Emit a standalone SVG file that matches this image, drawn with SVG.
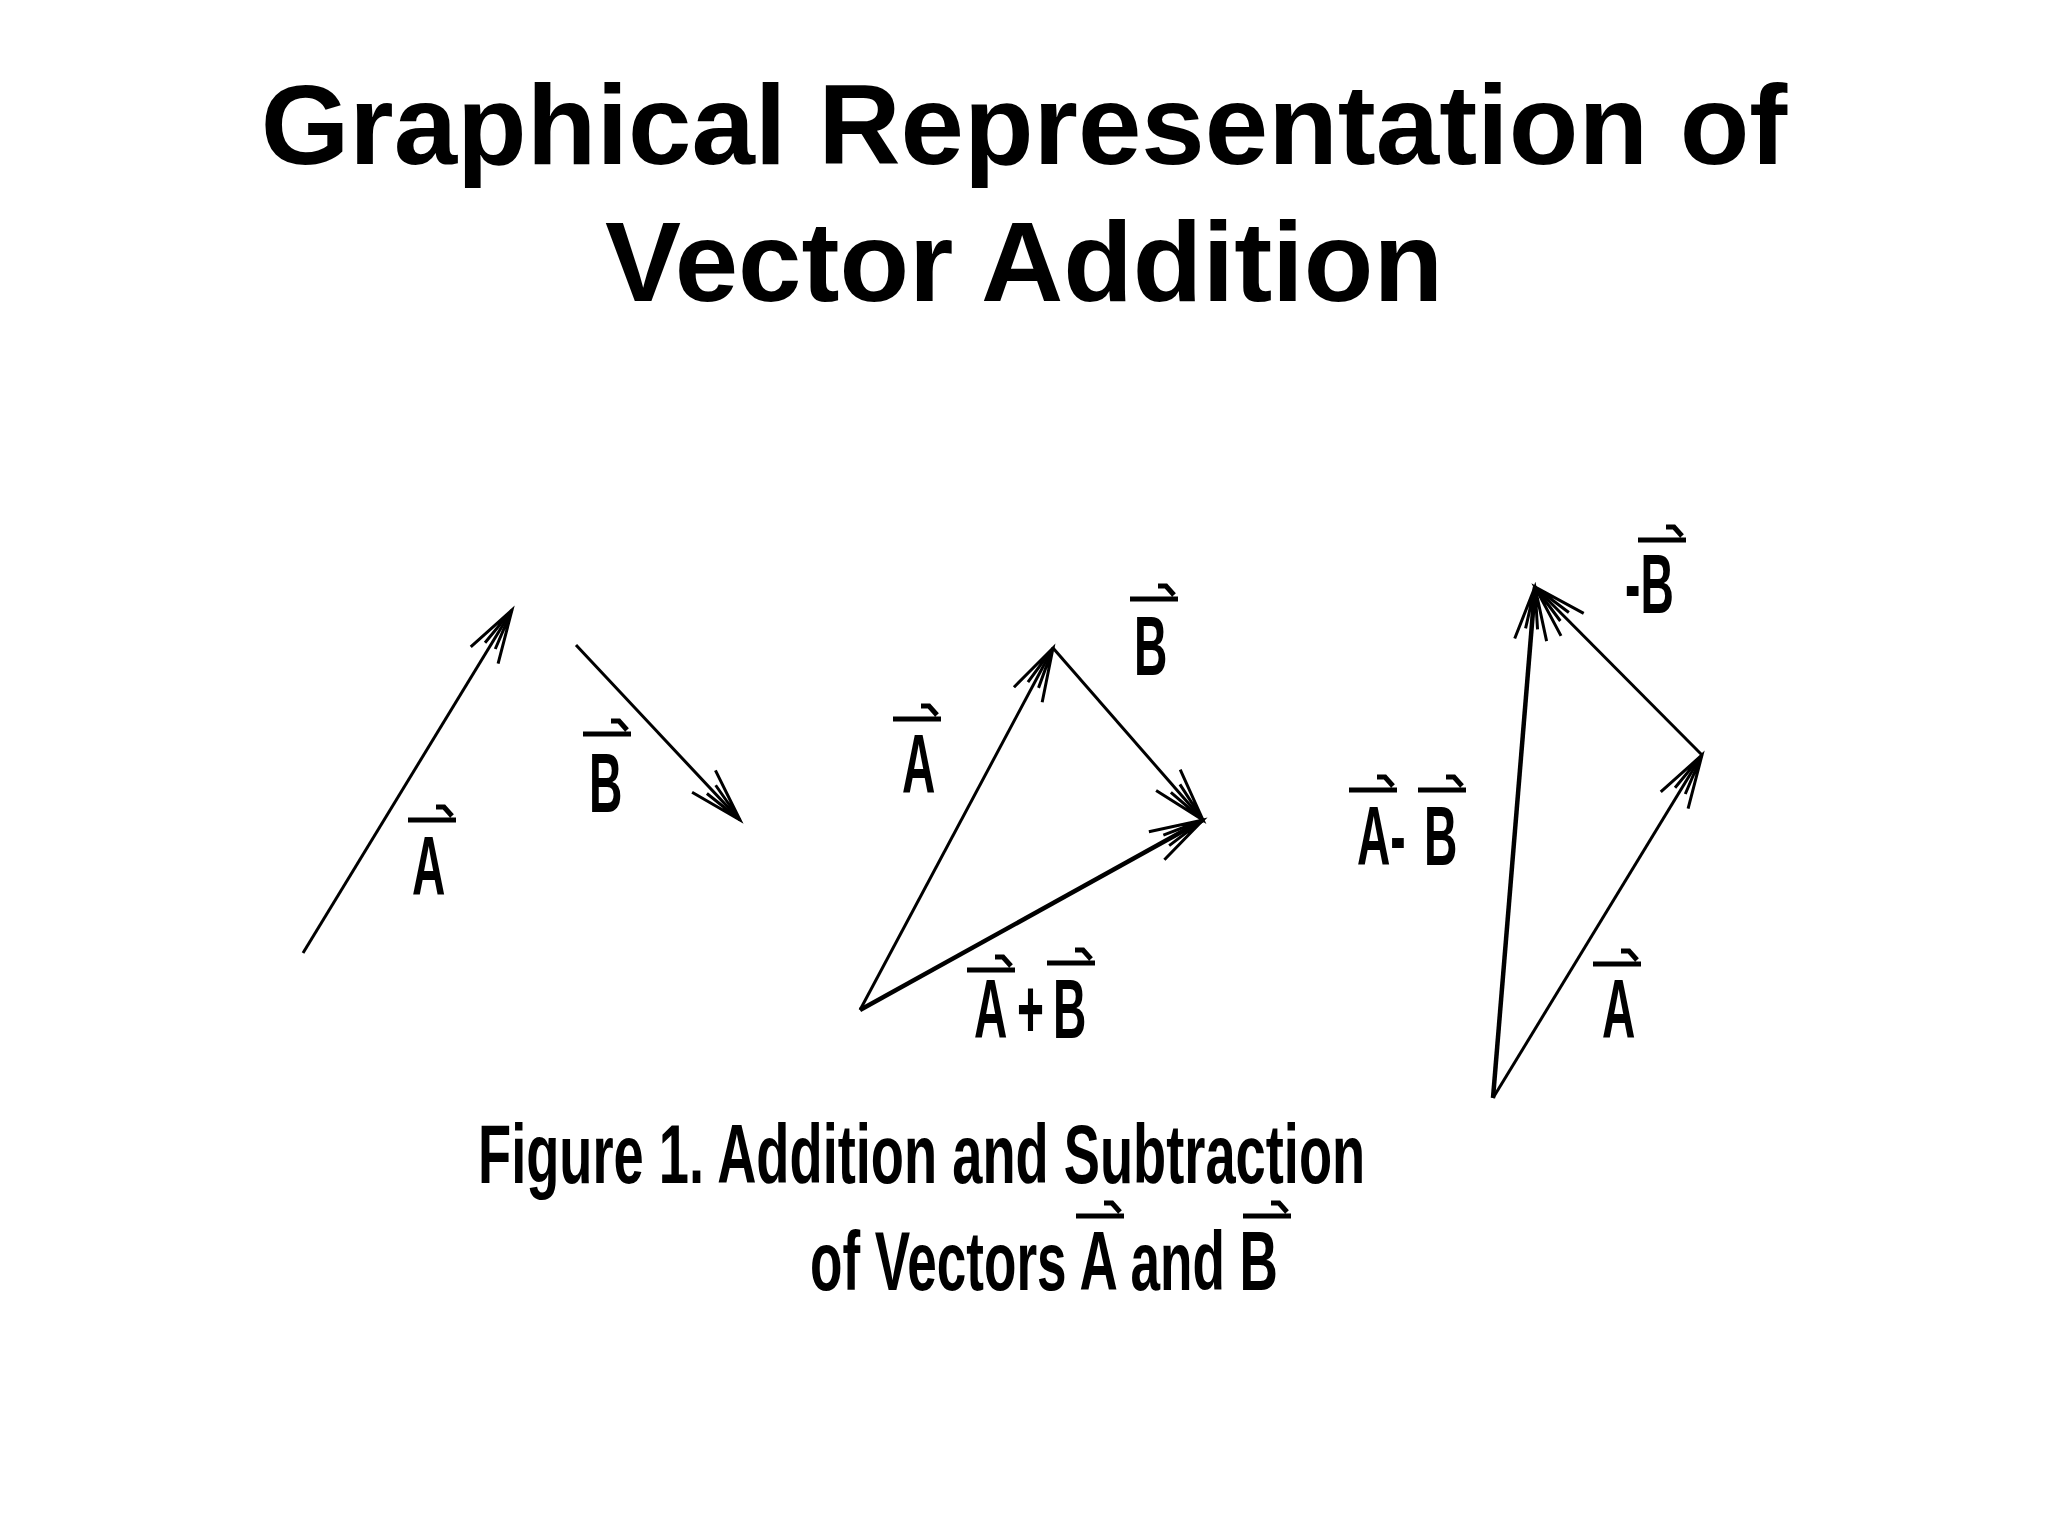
<svg xmlns="http://www.w3.org/2000/svg" xmlns:xlink="http://www.w3.org/1999/xlink" width="2048" height="1536" viewBox="0 0 2048 1536">
<style>
.title{font-family:"Liberation Sans",Arial,sans-serif;font-weight:bold;font-size:114px;fill:#000;text-anchor:middle}
.lbl{font-family:"Liberation Sans",Arial,sans-serif;font-weight:bold;font-size:84px;fill:#000}
.cap{font-family:"Liberation Sans",Arial,sans-serif;font-weight:bold;font-size:84px;fill:#000}
.vec{fill:none;stroke:#000;stroke-width:3;marker-end:url(#ah)}
.thick{stroke-width:4.5}
</style>
<defs>
<marker id="ah" markerUnits="userSpaceOnUse" markerWidth="80" markerHeight="60" viewBox="-70 -30 80 60" refX="0" refY="0" orient="auto" overflow="visible">
<path d="M-53,-16 L0,0 L-53,16 M-42,-6 L0,0 L-42,6" fill="none" stroke="#000" stroke-width="3"/>
</marker>
<path id="ov" d="M0,0 H48 M28,-13 H36 L44,-4" fill="none" stroke="#000" stroke-width="5"/>
</defs>
<rect width="2048" height="1536" fill="#fff"/>
<g id="title">
<text class="title" x="1024" y="164">Graphical Representation of</text>
<text class="title" x="1024" y="301">Vector Addition</text>
</g>
<g id="connectors">
<line id="left-A" class="vec" x1="303" y1="953" x2="512" y2="610"/>
<line id="left-B" class="vec" x1="576" y1="645" x2="740" y2="820"/>
<line id="mid-A" class="vec" x1="860" y1="1010" x2="1053" y2="648"/>
<line id="mid-B" class="vec" x1="1053" y1="648" x2="1203" y2="820"/>
<line id="mid-AplusB" class="vec thick" x1="860" y1="1010" x2="1203" y2="820"/>
<line id="right-A" class="vec" x1="1493" y1="1098" x2="1702" y2="755"/>
<line id="right-negB" class="vec" x1="1702" y1="755" x2="1535" y2="587"/>
<line id="right-AminusB" class="vec thick" x1="1493" y1="1098" x2="1535" y2="587"/>
</g>
<g id="label-left-A">
<use href="#ov" x="408" y="820"/>
<text class="lbl" transform="translate(412,895) scale(0.55,1)">A</text>
</g>
<g id="label-left-B">
<use href="#ov" x="583" y="734"/>
<text class="lbl" transform="translate(589,812) scale(0.55,1)">B</text>
</g>
<g id="label-mid-A">
<use href="#ov" x="893" y="719"/>
<text class="lbl" transform="translate(902,793) scale(0.55,1)">A</text>
</g>
<g id="label-mid-B">
<use href="#ov" x="1130" y="599"/>
<text class="lbl" transform="translate(1134,675) scale(0.55,1)">B</text>
</g>
<g id="label-AplusB">
<use href="#ov" x="967" y="970"/>
<use href="#ov" x="1047" y="963"/>
<text class="lbl" transform="translate(974,1038) scale(0.55,1)">A</text>
<text class="lbl" transform="translate(1017,1038) scale(0.55,1)">+</text>
<text class="lbl" transform="translate(1053,1038) scale(0.55,1)">B</text>
</g>
<g id="label-negB">
<use href="#ov" x="1638" y="540"/>
<text class="lbl" transform="translate(1625,613) scale(0.55,1)">-B</text>
</g>
<g id="label-AminusB">
<use href="#ov" x="1349" y="790"/>
<use href="#ov" x="1418" y="790"/>
<text class="lbl" transform="translate(1357,865) scale(0.55,1)">A-</text>
<text class="lbl" transform="translate(1424,865) scale(0.55,1)">B</text>
</g>
<g id="label-right-A">
<use href="#ov" x="1593" y="964"/>
<text class="lbl" transform="translate(1602,1038) scale(0.55,1)">A</text>
</g>
<g id="caption">
<text class="cap" transform="translate(478,1183) scale(0.646,1)">Figure 1. Addition and Subtraction</text>
<use href="#ov" x="1076" y="1216"/>
<use href="#ov" x="1243" y="1216"/>
<text class="cap" transform="translate(810,1290) scale(0.632,1)">of Vectors A and B</text>
</g>
</svg>
